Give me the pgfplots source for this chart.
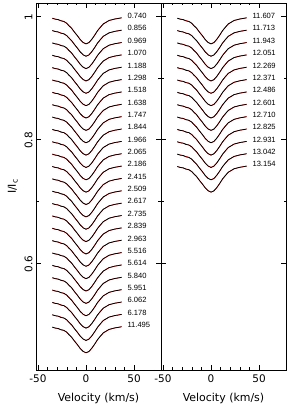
\documentclass[border=0pt]{standalone}
\usepackage{pgfplots}
\pgfplotsset{compat=1.18}
\usepackage{pgfplotstable}
\usepackage{fontspec}
\setmainfont{DejaVu Sans}
\newfontfamily\labfont{Liberation Sans}

\pgfplotstableread{
v    m       o
-35  -0.004  -0.0035
-32  -0.005  -0.0052
-29  -0.006  -0.0058
-26  -0.0075 -0.0080
-23  -0.009  -0.0088
-20  -0.012  -0.0118
-18  -0.015  -0.0155
-15  -0.020  -0.0198
-12  -0.026  -0.0262
-9   -0.032  -0.0318
-6   -0.038  -0.0383
-3   -0.043  -0.0428
0    -0.045  -0.0452
3    -0.043  -0.0432
6    -0.038  -0.0378
9    -0.031  -0.0313
12   -0.024  -0.0238
15   -0.018  -0.0183
18   -0.013  -0.0128
21   -0.010  -0.0102
24   -0.0075 -0.0072
27   -0.006  -0.0062
30   -0.005  -0.0048
33   -0.004  -0.0042
37   -0.003  -0.0030
}\profile

\newcommand{\prof}[2]{%
  \addplot[red, line width=0.7pt] table[x=v, y expr=\thisrow{m}+#1] {\profile};
  \addplot[black, line width=0.75pt] table[x=v, y expr=\thisrow{o}+#1] {\profile};
  \node[anchor=west, inner sep=0pt, font=\labfont\fontsize{7.6}{8}\selectfont] at (axis cs:43,#1) {#2};
}

\pgfplotsset{
  panel/.style={
    scale only axis, width=125bp, height=367bp,
    xmin=-52, xmax=78, ymin=0.427, ymax=1.021,
    xtick={-50,0,50}, minor x tick num=4,
    ytick={0.6,0.8,1.0}, minor y tick num=1,
    tick align=inside,
    major tick length=5bp, minor tick length=2.5bp,
    every tick/.style={black, line width=0.5pt},
    axis line style={line width=0.8pt},
    /pgf/number format/assume math mode=true,
    tick label style={font=\fontsize{10.5}{12}\selectfont},
    xlabel={Velocity (km/s)},
    xlabel style={font=\fontsize{11}{13}\selectfont, yshift=-4bp},
    xticklabel style={yshift=-1bp},
  }
}

\begin{document}
\begin{tikzpicture}
\useasboundingbox (0,0) rectangle (288bp,412bp);
\begin{axis}[panel, at={(36bp,42bp)}, anchor=south west,
  yticklabel style={rotate=90, anchor=south, xshift=-1bp},
  ylabel={I/I\textsubscript{c}},
  ylabel style={font=\fontsize{11}{13}\selectfont},
]
\prof{1.00}{0.740}
\prof{0.98}{0.856}
\prof{0.96}{0.969}
\prof{0.94}{1.070}
\prof{0.92}{1.188}
\prof{0.90}{1.298}
\prof{0.88}{1.518}
\prof{0.86}{1.638}
\prof{0.84}{1.747}
\prof{0.82}{1.844}
\prof{0.80}{1.966}
\prof{0.78}{2.065}
\prof{0.76}{2.186}
\prof{0.74}{2.415}
\prof{0.72}{2.509}
\prof{0.70}{2.617}
\prof{0.68}{2.735}
\prof{0.66}{2.839}
\prof{0.64}{2.963}
\prof{0.62}{5.516}
\prof{0.60}{5.614}
\prof{0.58}{5.840}
\prof{0.56}{5.951}
\prof{0.54}{6.062}
\prof{0.52}{6.178}
\prof{0.50}{11.495}
\end{axis}
\begin{axis}[panel, at={(161bp,42bp)}, anchor=south west,
  yticklabels={},
]
\prof{1.00}{11.607}
\prof{0.98}{11.713}
\prof{0.96}{11.943}
\prof{0.94}{12.051}
\prof{0.92}{12.269}
\prof{0.90}{12.371}
\prof{0.88}{12.486}
\prof{0.86}{12.601}
\prof{0.84}{12.710}
\prof{0.82}{12.825}
\prof{0.80}{12.931}
\prof{0.78}{13.042}
\prof{0.76}{13.154}
\end{axis}
\end{tikzpicture}
\end{document}
